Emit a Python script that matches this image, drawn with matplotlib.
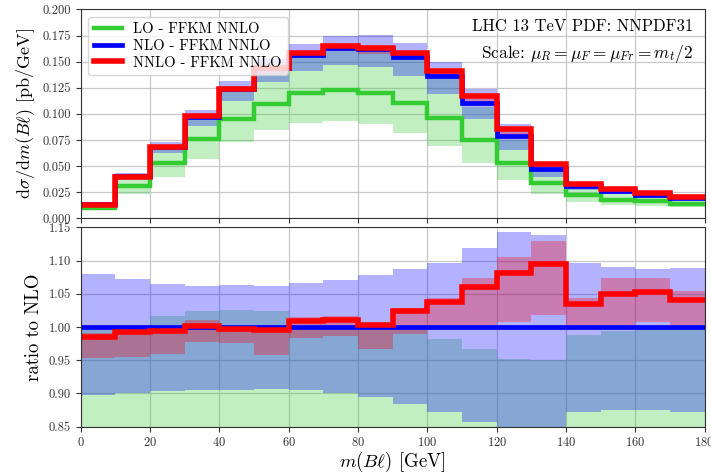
import numpy as np
import matplotlib
matplotlib.use("Agg")
import matplotlib.pyplot as plt

plt.rcParams['font.family'] = 'serif'
plt.rcParams['font.serif'] = ['cmr10']
plt.rcParams['mathtext.fontset'] = 'cm'
plt.rcParams['axes.formatter.use_mathtext'] = True

# m(B l) bins [GeV]
bin_edges = [0, 10, 20, 30, 40, 50, 60, 70, 80, 90, 100, 110, 120, 130, 140, 150, 160, 170, 180]

# central predictions [pb/GeV]
lo = [0.0102, 0.0313, 0.0530, 0.0756, 0.0954, 0.1097, 0.1196, 0.1230, 0.1203,
      0.1107, 0.0957, 0.0750, 0.0526, 0.0335, 0.0223, 0.0180, 0.0166, 0.0137]
nlo = [0.0133, 0.0402, 0.0687, 0.0974, 0.1237, 0.1442, 0.1564, 0.1631, 0.1623,
       0.1543, 0.1362, 0.1105, 0.0788, 0.0472, 0.0314, 0.0265, 0.0227, 0.0196]
nnlo = [0.0131, 0.0399, 0.0683, 0.0976, 0.1234, 0.1435, 0.1579, 0.1649, 0.1627,
        0.1579, 0.1413, 0.1171, 0.0852, 0.0517, 0.0325, 0.0278, 0.0239, 0.0204]

# scale variation envelopes, relative to the NLO central value
lo_band_dn = [0.602, 0.572, 0.582, 0.585, 0.588, 0.586, 0.585, 0.573, 0.556,
              0.531, 0.510, 0.476, 0.466, 0.487, 0.497, 0.483, 0.533, 0.536]
lo_band_up = [0.996, 0.997, 1.0165, 1.0236, 1.025, 1.0236, 1.000, 1.000, 1.000,
              0.995, 0.982, 0.967, 0.952, 0.950, 0.9885, 0.9935, 1.000, 1.000]
nlo_band_dn = [0.898, 0.9007, 0.9037, 0.9057, 0.9057, 0.906, 0.9047, 0.901, 0.8947,
               0.8847, 0.872, 0.857, 0.830, 0.830, 0.872, 0.8746, 0.8746, 0.872]
nlo_band_up = [1.080, 1.0717, 1.065, 1.0617, 1.0627, 1.061, 1.0667, 1.070, 1.079,
               1.0878, 1.0968, 1.1189, 1.143, 1.139, 1.0968, 1.090, 1.0878, 1.0888]
nnlo_band_dn = [0.954, 0.955, 0.960, 0.9774, 0.976, 0.958, 0.983, 0.9865, 0.967,
                0.990, 1.000, 1.000, 1.0075, 1.0176, 1.000, 1.000, 1.0075, 0.997]
nnlo_band_up = [0.9915, 0.998, 1.000, 1.010, 1.000, 1.000, 1.015, 1.016, 1.006,
                1.028, 1.043, 1.073, 1.105, 1.130, 1.043, 1.073, 1.074, 1.054]

series = [
    ("LO - FFKM NNLO", lo, lo_band_dn, lo_band_up, "#33cc33", 3.2),
    ("NLO - FFKM NNLO", nlo, nlo_band_dn, nlo_band_up, "#0000ff", 3.4),
    ("NNLO - FFKM NNLO", nnlo, nnlo_band_dn, nnlo_band_up, "#ff0000", 4.0),
]

edges = np.array(bin_edges, dtype=float)
ref = np.array(nlo)

fig = plt.figure(figsize=(7.11, 4.72), dpi=100)
ax_top = fig.add_axes([0.1135, 0.5375, 0.8775, 0.4425])
ax_rat = fig.add_axes([0.1135, 0.096, 0.8775, 0.4224])

for ax in (ax_top, ax_rat):
    ax.grid(True, color="#c8c8c8", lw=0.9)
    ax.set_axisbelow(True)
    for s in ax.spines.values():
        s.set_color("#333333")
    ax.tick_params(labelsize=9, colors="#333333", direction="out", length=3.5)

# bands first, then the central lines on top
for label, cen, dn, up, color, lw in series:
    dn = np.array(dn)
    up = np.array(up)
    ax_top.stairs(up * ref, edges, baseline=dn * ref, fill=True, color=color, alpha=0.3, lw=0)
    ax_rat.stairs(up, edges, baseline=dn, fill=True, color=color, alpha=0.3, lw=0)

for label, cen, dn, up, color, lw in series:
    cen = np.array(cen)
    ax_top.stairs(cen, edges, baseline=None, color=color, lw=lw, label=label)
    ax_rat.stairs(cen / ref, edges, baseline=None, color=color, lw=lw)

ax_top.set_xlim(0, 180)
ax_top.set_ylim(0, 0.2)
ax_top.set_yticks(np.arange(0, 0.2001, 0.025))
ax_top.yaxis.set_major_formatter(matplotlib.ticker.FormatStrFormatter('%.3f'))
ax_top.set_xticks(np.arange(0, 181, 20))
ax_top.tick_params(axis='x', labelbottom=False)
ax_top.set_ylabel(r"$\mathrm{d}\sigma/\mathrm{d}m(B\ell)$ [pb/GeV]", fontsize=13)

ax_top.legend(loc="upper left", fontsize=10.5, handlelength=1.9, borderpad=0.4,
              labelspacing=0.2, edgecolor="#cccccc")
ax_top.text(0.982, 0.955, "LHC 13 TeV PDF: NNPDF31", transform=ax_top.transAxes,
            ha="right", va="top", fontsize=12)
ax_top.text(0.982, 0.84, r"Scale: $\mu_R = \mu_F = \mu_{Fr} = m_t/2$",
            transform=ax_top.transAxes, ha="right", va="top", fontsize=12.5)

ax_rat.set_xlim(0, 180)
ax_rat.set_ylim(0.85, 1.15)
ax_rat.set_yticks(np.arange(0.85, 1.1501, 0.05))
ax_rat.yaxis.set_major_formatter(matplotlib.ticker.FormatStrFormatter('%.2f'))
ax_rat.set_xticks(np.arange(0, 181, 20))
ax_rat.set_ylabel("ratio to NLO", fontsize=13.5)
ax_rat.set_xlabel(r"$m(B\ell)$ [GeV]", fontsize=13.5, labelpad=0)

fig.savefig("out.png", dpi=100)
